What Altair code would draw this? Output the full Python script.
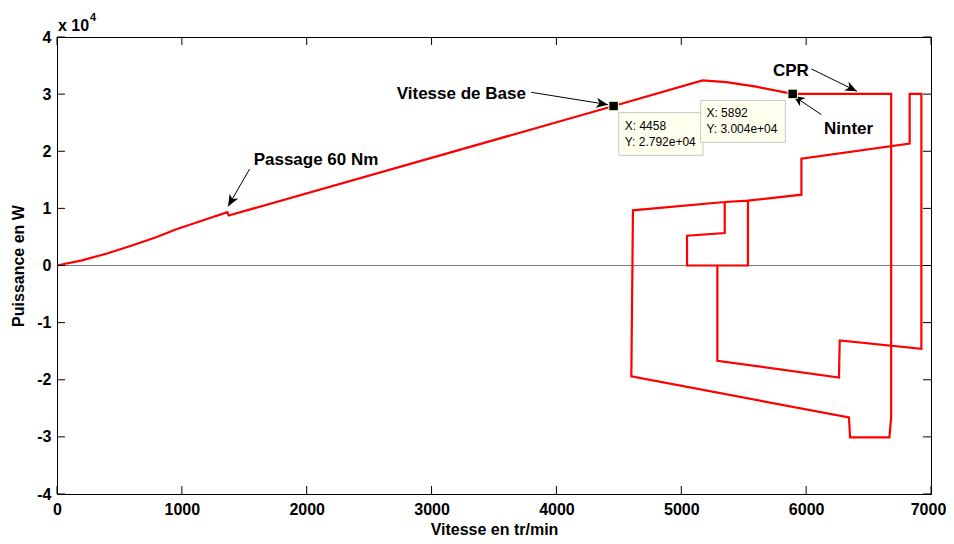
import math
import altair as alt
import pandas as pd

# ---- main trace (speed in tr/min, power in W) ----
speed = [0, 200, 400, 600, 800, 950, 1100, 1365, 1375, 4458, 5170, 5360, 5600, 5840, 5892,
         6681, 6681, 6667, 6352, 6343, 4600, 4613, 5348, 5534, 5962, 5962, 6829, 6829, 6923,
         6923, 6269, 6263, 5289, 5289, 5534, 5534, 5348, 5348, 5046, 5046, 5289]
power = [0, 900, 2100, 3500, 5000, 6300, 7400, 9350, 8750, 27920, 32400, 32100, 31300, 30250, 30040,
         30040, -26500, -30100, -30100, -26600, -19400, 9650, 11120, 11350, 12400, 18700, 21330, 30040, 30040,
         -14570, -13120, -19600, -16670, 0, 0, 11350, 11120, 5690, 5220, 0, 0]

x_ticks = [0, 1000, 2000, 3000, 4000, 5000, 6000, 7000]
y_ticks = [-40000, -30000, -20000, -10000, 0, 10000, 20000, 30000, 40000]

# annotations
ann_text = ["Passage 60 Nm", "Vitesse de Base", "CPR", "Ninter"]
ann_x = [1575, 2721, 5734, 6143]
ann_y = [17651, 29159, 33240, 23082]
arr_x0 = [1543, 3799, 6042, 6122]
arr_y0 = [16900, 30315, 34413, 26409]
arr_x1 = [1370, 4413, 6407, 5895]
arr_y1 = [10350, 28161, 30490, 29737]

# data tips
tip_x = [4458, 5892]
tip_y = [27920, 30040]
tip_line1 = ["X: 4458", "X: 5892"]
tip_line2 = ["Y: 2.792e+04", "Y: 3.004e+04"]
box_x0 = [4499, 5155]
box_x1 = [5174, 5834]
box_y0 = [26760, 28914]
box_y1 = [19282, 21558]
txt_x = [4547, 5201]
txt_y1 = [24360, 26760]
txt_y2 = [21681, 23835]

W, H = 874, 457
FONT = "Liberation Sans, Arial, Helvetica, sans-serif"
XT = "Vitesse en tr/min"
YT = "Puissance en W"

xs = alt.Scale(domain=[0, 7000], nice=False, zero=False)
ys = alt.Scale(domain=[-40000, 40000], nice=False, zero=False)


def X(f):
    return alt.X(f, scale=xs, title=XT)


def Y(f):
    return alt.Y(f, scale=ys, title=YT)


df = pd.DataFrame({"speed": speed, "power": power, "order": list(range(len(speed)))})

# angles of arrow heads computed in screen space
angles = []
for a, b, c, d in zip(arr_x0, arr_y0, arr_x1, arr_y1):
    dx = (c - a) * W / 7000
    dy = -(d - b) * H / 80000
    angles.append(math.degrees(math.atan2(dx, -dy)) % 360)

ann = pd.DataFrame({"text": ann_text, "tx": ann_x, "ty": ann_y,
                    "x0": arr_x0, "y0": arr_y0, "x1": arr_x1, "y1": arr_y1, "ang": angles})
tips = pd.DataFrame({"x": tip_x, "y": tip_y, "l1": tip_line1, "l2": tip_line2,
                     "bx0": box_x0, "bx1": box_x1, "by0": box_y0, "by1": box_y1,
                     "tx": txt_x, "ty1": txt_y1, "ty2": txt_y2})
xt = pd.DataFrame({"speed": x_ticks})
yt = pd.DataFrame({"power": y_ticks})
one = pd.DataFrame({"power": [0]})

zero = alt.Chart(one).mark_rule(color="#7a7a7a", strokeWidth=1.2).encode(y=Y("power:Q"))

line = alt.Chart(df).mark_line(color="#ff0000", strokeWidth=2.2).encode(
    x=alt.X("speed:Q", scale=xs, title=XT,
            axis=alt.Axis(values=x_ticks, format="d", grid=False, tickSize=0, labelPadding=7,
                          labelFlush=False,
                          labelOffset={"condition": {"test": "datum.value == 7000", "value": -3},
                                       "value": 0},
                          labelFont=FONT, labelFontSize=16, labelFontWeight="bold",
                          labelColor="black", titleFont=FONT, titleFontSize=16, titleFontWeight="bold",
                          titleColor="black", titlePadding=4, domainColor="black")),
    y=alt.Y("power:Q", scale=ys, title=YT,
            axis=alt.Axis(values=y_ticks, grid=False, tickSize=0, labelPadding=6,
                          labelExpr="datum.value / 10000", labelFont=FONT, labelFontSize=16,
                          labelFontWeight="bold", labelColor="black", titleFont=FONT, titleFontSize=16,
                          titleFontWeight="bold", titleColor="black", titlePadding=10,
                          domainColor="black")),
    order="order:Q")

tk = dict(color="black", strokeWidth=1)
tick_b = alt.Chart(xt).mark_rule(**tk).encode(x=X("speed:Q"), y=alt.value(H), y2=alt.value(H - 8))
tick_t = alt.Chart(xt).mark_rule(**tk).encode(x=X("speed:Q"), y=alt.value(0), y2=alt.value(8))
tick_l = alt.Chart(yt).mark_rule(**tk).encode(y=Y("power:Q"), x=alt.value(0), x2=alt.value(8))
tick_r = alt.Chart(yt).mark_rule(**tk).encode(y=Y("power:Q"), x=alt.value(W), x2=alt.value(W - 8))

arrow_lines = alt.Chart(ann).mark_rule(color="black", strokeWidth=1).encode(
    x=X("x0:Q"), y=Y("y0:Q"), x2="x1:Q", y2="y1:Q")
arrow_heads = alt.Chart(ann).mark_point(
    shape="M0,0 L0.42,1 L0,0.72 L-0.42,1 Z", filled=True, color="black", size=560, opacity=1
).encode(x=X("x1:Q"), y=Y("y1:Q"), angle=alt.Angle("ang:Q", scale=None))
ann_labels = alt.Chart(ann).mark_text(
    font=FONT, fontSize=17, fontWeight="bold", color="black", align="left", baseline="alphabetic"
).encode(x=X("tx:Q"), y=Y("ty:Q"), text="text:N")

boxes = []
for i in range(len(tip_x)):
    sub = tips.iloc[[i]]
    box = alt.Chart(sub).mark_rect(fill="#ffffee", stroke="#c8c8c8", strokeWidth=1).encode(
        x=X("bx0:Q"), x2="bx1:Q", y=Y("by0:Q"), y2="by1:Q")
    t1 = alt.Chart(sub).mark_text(font=FONT, fontSize=12, color="black", align="left",
                                  baseline="middle").encode(x=X("tx:Q"), y=Y("ty1:Q"), text="l1:N")
    t2 = alt.Chart(sub).mark_text(font=FONT, fontSize=12, color="black", align="left",
                                  baseline="middle").encode(x=X("tx:Q"), y=Y("ty2:Q"), text="l2:N")
    boxes += [box, t1, t2]

markers = alt.Chart(tips).mark_square(size=90, color="black", stroke="#ffffd8", strokeWidth=1,
                                      opacity=1).encode(x=X("x:Q"), y=Y("y:Q"))

exp_base = alt.Chart(one).mark_text(font=FONT, fontSize=16, fontWeight="bold", color="black",
                                    align="left", baseline="alphabetic").encode(
    x=alt.value(1), y=alt.value(-6), text=alt.value("x 10"))
exp_pow = alt.Chart(one).mark_text(font=FONT, fontSize=11, fontWeight="bold", color="black",
                                   align="left", baseline="alphabetic").encode(
    x=alt.value(33), y=alt.value(-16), text=alt.value("4"))

chart = alt.layer(
    zero, line, tick_b, tick_t, tick_l, tick_r, arrow_lines, arrow_heads, ann_labels,
    *boxes, markers, exp_base, exp_pow
).properties(
    width=W, height=H, autosize="none",
    padding={"left": 49, "top": 29, "right": 15, "bottom": 42},
    background="white"
).configure_view(stroke="black", strokeWidth=1)

chart.save("out.html", embed_options={"renderer": "svg", "actions": False})
